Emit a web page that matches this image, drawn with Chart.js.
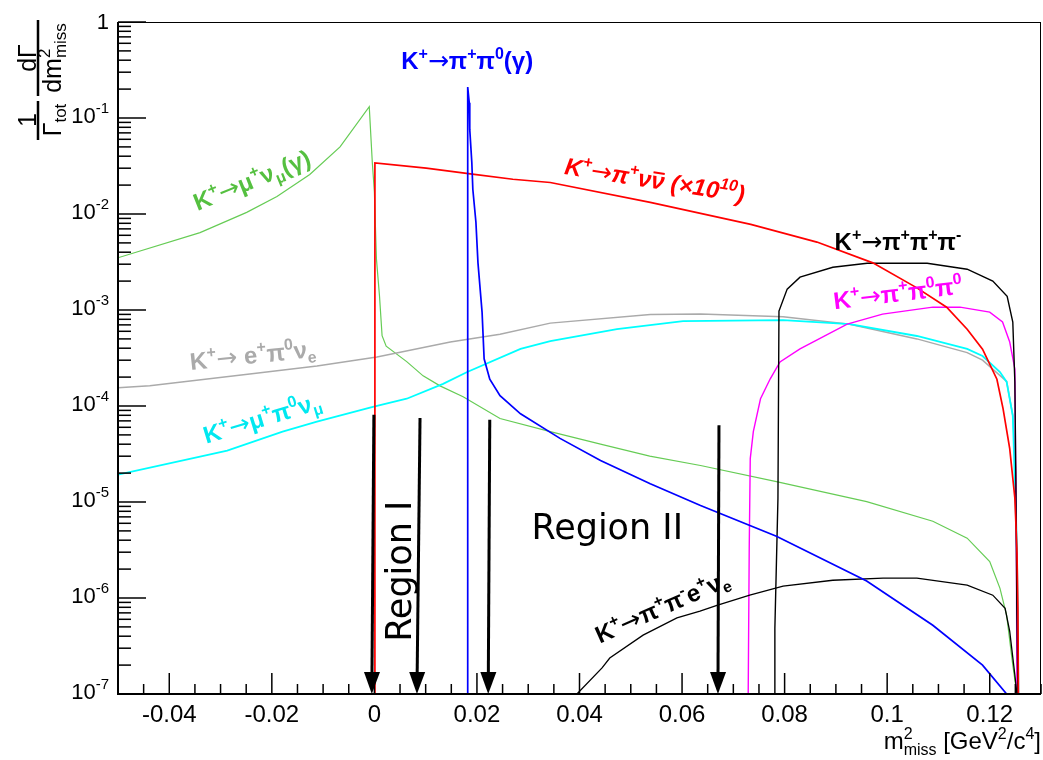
<!DOCTYPE html>
<html>
<head>
<meta charset="utf-8">
<script src="https://cdn.jsdelivr.net/npm/chart.js@4.4.0/dist/chart.umd.min.js"></script>
<style>
  html, body { margin: 0; padding: 0; background: #fff; }
</style>
</head>
<body>
<canvas id="grafico" width="1043" height="760"></canvas>
<script>
// axis ranges and tick labels
const xRange = [-0.05, 0.13];
const yRange = [1e-7, 1];
const xMajorTicks = [-0.04, -0.02, 0, 0.02, 0.04, 0.06, 0.08, 0.1, 0.12];
const xTickLabels = ['-0.04', '-0.02', '0', '0.02', '0.04', '0.06', '0.08', '0.1', '0.12'];
const yDecades = [1, 1e-1, 1e-2, 1e-3, 1e-4, 1e-5, 1e-6, 1e-7];
const yTickLabels = ['1', '10^{-1}', '10^{-2}', '10^{-3}', '10^{-4}', '10^{-5}', '10^{-6}', '10^{-7}'];

// K+ -> mu+ nu (gamma)
const kmunuX = [-0.05, -0.034, -0.0249, -0.019, -0.0126, -0.0067, -0.0010, -0.0004, 0.0000, 0.0002, 0.0004, 0.0010, 0.0015, 0.0023, 0.0063, 0.0095, 0.0128, 0.0173, 0.0245, 0.0343, 0.0441, 0.0537, 0.0636, 0.0784, 0.0960, 0.1089, 0.1156, 0.1200, 0.1220, 0.1233, 0.1245, 0.1253];
const kmunuY = [3.5e-3, 6.4e-3, 1.04e-2, 1.52e-2, 2.58e-2, 5.0e-2, 0.131, 3.4e-2, 1.7e-2, 7.4e-3, 3.4e-3, 1.39e-3, 5.4e-4, 4.2e-4, 2.9e-4, 2.06e-4, 1.62e-4, 1.25e-4, 7.4e-5, 5.4e-5, 4.0e-5, 3.0e-5, 2.4e-5, 1.63e-5, 1.01e-5, 6.3e-6, 4.2e-6, 2.4e-6, 1.26e-6, 6.6e-7, 2.0e-7, 1.0e-7];

// K+ -> pi+ nu nubar (x 10^10)
const kpinunuX = [0.0001, 0.0001, 0.0101, 0.0191, 0.0270, 0.0343, 0.0538, 0.0734, 0.0863, 0.0972, 0.1058, 0.1116, 0.1156, 0.1186, 0.1214, 0.1226, 0.1239, 0.1249, 0.1253, 0.1255, 0.1256];
const kpinunuY = [1e-7, 0.034, 0.030, 0.026, 0.023, 0.0213, 0.0132, 0.0078, 0.0051, 0.0031, 0.0017, 0.00107, 6.3e-4, 3.9e-4, 1.9e-4, 9.4e-5, 3.6e-5, 1.1e-5, 3.3e-6, 8e-7, 1e-7];

// K+ -> pi+ pi0 (gamma)
const kpipi0X = [0.0182, 0.0182, 0.0185, 0.0186, 0.0190, 0.0192, 0.0198, 0.0202, 0.0210, 0.0214, 0.0225, 0.0245, 0.0285, 0.0362, 0.0441, 0.0538, 0.0636, 0.0784, 0.0960, 0.1089, 0.1186, 0.1233];
const kpipi0Y = [1e-7, 0.21, 0.144, 0.0756, 0.0344, 0.018, 0.0082, 0.0031, 9.5e-4, 3.1e-4, 1.9e-4, 1.28e-4, 8.3e-5, 4.6e-5, 2.7e-5, 1.55e-5, 9.2e-6, 4.4e-6, 1.5e-6, 5.2e-7, 2.0e-7, 1.0e-7];

// K+ -> e+ pi0 nu_e
const ke3X = [-0.05, -0.0438, -0.0243, -0.0112, 0.0005, 0.0148, 0.0245, 0.0343, 0.0538, 0.0636, 0.0797, 0.0927, 0.1058, 0.1156, 0.1186, 0.1233, 0.1245, 0.1251, 0.1255];
const ke3Y = [1.55e-4, 1.63e-4, 2.16e-4, 2.61e-4, 3.24e-4, 4.64e-4, 5.6e-4, 7.3e-4, 9.0e-4, 9.1e-4, 8.5e-4, 7.1e-4, 5.0e-4, 3.6e-4, 3.0e-4, 1.8e-4, 8e-5, 2e-5, 1e-7];

// K+ -> mu+ pi0 nu_mu
const kmu3X = [-0.05, -0.034, -0.0287, -0.0179, -0.0112, -0.0003, 0.0063, 0.0134, 0.0181, 0.0285, 0.0343, 0.0473, 0.0602, 0.0797, 0.0927, 0.1058, 0.1156, 0.1186, 0.1220, 0.1233, 0.1245, 0.1249, 0.1253, 0.1255, 0.1256];
const kmu3Y = [1.93e-5, 2.97e-5, 3.43e-5, 5.4e-5, 6.86e-5, 9.8e-5, 1.19e-4, 1.7e-4, 2.26e-4, 3.93e-4, 4.75e-4, 6.33e-4, 7.67e-4, 7.86e-4, 7.14e-4, 5.36e-4, 3.93e-4, 3.32e-4, 2.26e-4, 1.78e-4, 7.9e-5, 1.63e-5, 3.3e-6, 3.2e-7, 1e-7];

// K+ -> pi+ pi0 pi0
const kpi0pi0X = [0.0729, 0.0731, 0.0733, 0.0739, 0.0753, 0.0772, 0.0791, 0.0830, 0.0922, 0.0991, 0.1089, 0.1142, 0.1200, 0.1225, 0.1239, 0.1249, 0.1252, 0.1253];
const kpi0pi0Y = [1e-7, 3.3e-6, 2.83e-5, 5.4e-5, 1.19e-4, 1.92e-4, 2.88e-4, 3.93e-4, 7.14e-4, 9.06e-4, 1.07e-3, 1.07e-3, 9.5e-4, 7.5e-4, 4.64e-4, 2.43e-4, 3e-6, 1e-7];

// K+ -> pi+ pi+ pi-
const k3piX = [0.0781, 0.0781, 0.0787, 0.0789, 0.0805, 0.0830, 0.0894, 0.0961, 0.1078, 0.1156, 0.1206, 0.1234, 0.1245, 0.1249, 0.1251, 0.1253, 0.1255];
const k3piY = [1e-7, 4.85e-7, 1.09e-5, 9.75e-4, 1.65e-3, 2.2e-3, 2.79e-3, 3.07e-3, 3.07e-3, 2.66e-3, 2.0e-3, 1.39e-3, 7.5e-4, 1.78e-4, 1.63e-5, 6.6e-7, 1e-7];

// K+ -> pi+ pi- e+ nu_e
const ke4X = [0.0395, 0.0444, 0.0459, 0.0524, 0.0590, 0.0635, 0.0668, 0.0732, 0.0797, 0.0894, 0.0992, 0.1058, 0.1156, 0.1206, 0.1230, 0.1239, 0.1249, 0.1253];
const ke4Y = [1.0e-7, 1.87e-7, 2.37e-7, 4.1e-7, 6.2e-7, 7.3e-7, 8.4e-7, 1.07e-6, 1.33e-6, 1.53e-6, 1.61e-6, 1.61e-6, 1.36e-6, 1.07e-6, 7.8e-7, 4.5e-7, 1.58e-7, 1.0e-7];

// arrows marking the signal regions (data coordinates)
const arrows = [
  { x0: -0.0001, y0: 8.1e-5, x1: -0.0005, y1: 1e-7 },
  { x0: 0.0089, y0: 7.5e-5, x1: 0.0083, y1: 1e-7 },
  { x0: 0.0225, y0: 7.2e-5, x1: 0.0222, y1: 1e-7 },
  { x0: 0.0672, y0: 6.3e-5, x1: 0.0670, y1: 1e-7 }
];

// curve captions (data coordinates, angle in degrees)
const captions = [
  { text: 'K^{+}→μ^{+}ν_{μ}(γ)', x: -0.0239, y: 0.0226, angle: -22, color: '#55c040' },
  { text: 'K^{+}→π^{+}π^{0}(γ)', x: 0.0181, y: 0.392, angle: 0, color: '#0000ff' },
  { text: 'K^{+}→π^{+}ν#bar{ν} (×10^{10})', x: 0.0547, y: 0.0226, angle: 9, color: '#ff0000', italic: true },
  { text: 'K^{+}→π^{+}π^{+}π^{-}', x: 0.1021, y: 5.2e-3, angle: 0, color: '#000000' },
  { text: 'K^{+}→π^{+}π^{0}π^{0}', x: 0.1021, y: 1.5e-3, angle: -7, color: '#ff00ff' },
  { text: 'K^{+}→ e^{+}π^{0}ν_{e}', x: -0.0237, y: 3.4e-4, angle: -6, color: '#aaaaaa' },
  { text: 'K^{+}→μ^{+}π^{0}ν_{μ}', x: -0.0219, y: 7.5e-5, angle: -17, color: '#00e8f0' },
  { text: 'K^{+}→π^{+}π^{-}e^{+}ν_{e}', x: 0.0561, y: 8.1e-7, angle: -24, color: '#000000' }
];
const regions = [
  { text: 'Region I', x: 0.0048, y: 1.9e-6, angle: -90 },
  { text: 'Region II', x: 0.0454, y: 5.5e-6, angle: 0 }
];

const pontos = (xs, ys) => xs.map((x, i) => ({ x: x, y: ys[i] }));

// small TLatex-like text: ^{} superscript, _{} subscript, #bar{} overline, arrow in its own font
function partesTexto(str) {
  const out = [];
  let i = 0, buf = '';
  const flush = () => { if (buf) { out.push({ t: buf, k: 'n' }); buf = ''; } };
  while (i < str.length) {
    if ((str[i] === '^' || str[i] === '_') && str[i + 1] === '{') {
      flush();
      const fim = str.indexOf('}', i);
      out.push({ t: str.slice(i + 2, fim), k: str[i] === '^' ? 'sup' : 'sub' });
      i = fim + 1;
    } else if (str.startsWith('#bar{', i)) {
      flush();
      const fim = str.indexOf('}', i);
      out.push({ t: str.slice(i + 5, fim), k: 'bar' });
      i = fim + 1;
    } else if (str[i] === '→') {
      flush();
      out.push({ t: '→', k: 'arr' });
      i++;
    } else { buf += str[i]; i++; }
  }
  flush();
  return out;
}

function desenhaTexto(ctx, str, x, y, o) {
  const size = o.size || 24;
  const fam = o.family || '"Liberation Sans", Arial, sans-serif';
  const pre = (o.italic ? 'italic ' : '') + (o.bold ? 'bold ' : '');
  const small = Math.round(size * 0.68);
  const fonte = k => k === 'arr' ? Math.round(size * 1.05) + 'px "DejaVu Sans", sans-serif'
    : pre + ((k === 'sup' || k === 'sub') ? small : size) + 'px ' + fam;
  const partes = partesTexto(str);
  ctx.save();
  let w = 0, prev = null;
  partes.forEach(p => {
    ctx.font = fonte(p.k);
    p.w = ctx.measureText(p.t).width;
    if (p.k === 'sub' && prev && prev.k === 'sup') { p.x = prev.x; w = Math.max(prev.x + prev.w, p.x + p.w); }
    else { p.x = w; w += p.w; }
    prev = p;
  });
  ctx.translate(x, y);
  ctx.rotate((o.angle || 0) * Math.PI / 180);
  const x0 = o.align === 'left' ? 0 : o.align === 'right' ? -w : -w / 2;
  const base = size * 0.35;
  ctx.fillStyle = o.color || '#000';
  ctx.strokeStyle = o.color || '#000';
  ctx.textBaseline = 'alphabetic';
  partes.forEach(p => {
    ctx.font = fonte(p.k);
    let dy = base;
    if (p.k === 'sup') dy -= size * 0.42;
    if (p.k === 'sub') dy += size * 0.22;
    ctx.fillText(p.t, x0 + p.x, dy);
    if (p.k === 'bar') {
      ctx.lineWidth = Math.max(1.5, size / 12);
      ctx.beginPath();
      ctx.moveTo(x0 + p.x + 1, dy - size * 0.66);
      ctx.lineTo(x0 + p.x + p.w - 1, dy - size * 0.66);
      ctx.stroke();
    }
  });
  ctx.restore();
}

const molduraRoot = {
  id: 'molduraRoot',
  beforeDraw(chart) {
    const ctx = chart.ctx;
    ctx.save();
    ctx.fillStyle = '#fff';
    ctx.fillRect(0, 0, chart.width, chart.height);
    ctx.restore();
  },
  afterDatasetsDraw(chart) {
    const { ctx, chartArea: a, scales: { x, y } } = chart;
    ctx.save();
    ctx.strokeStyle = '#000';
    ctx.lineWidth = 1.5;
    x.ticks.forEach(t => {
      const px = x.getPixelForValue(t.value);
      const major = xMajorTicks.some(m => Math.abs(m - t.value) < 1e-9);
      ctx.beginPath(); ctx.moveTo(px, a.bottom); ctx.lineTo(px, a.bottom - (major ? 21 : 10)); ctx.stroke();
    });
    y.ticks.forEach(t => {
      const py = y.getPixelForValue(t.value);
      const l = Math.log10(t.value);
      const major = Math.abs(l - Math.round(l)) < 1e-9;
      ctx.beginPath(); ctx.moveTo(a.left, py); ctx.lineTo(a.left + (major ? 28 : 13), py); ctx.stroke();
    });
    ctx.lineWidth = 1;
    ctx.strokeRect(a.left + 0.5, a.top + 0.5, a.right - a.left - 1, a.bottom - a.top - 1);
    ctx.lineWidth = 2;
    ctx.beginPath();
    ctx.moveTo(a.left, a.top); ctx.lineTo(a.left, a.bottom); ctx.lineTo(a.right, a.bottom);
    ctx.stroke();

    // arrows
    ctx.fillStyle = '#000';
    arrows.forEach(ar => {
      const x0 = x.getPixelForValue(ar.x0), y0 = y.getPixelForValue(ar.y0);
      const x1 = x.getPixelForValue(ar.x1), y1 = y.getPixelForValue(ar.y1);
      const ang = Math.atan2(y1 - y0, x1 - x0);
      const hl = 22, hw = 8;
      const bx = x1 - hl * Math.cos(ang), by = y1 - hl * Math.sin(ang);
      ctx.lineWidth = 3;
      ctx.beginPath(); ctx.moveTo(x0, y0); ctx.lineTo(bx, by); ctx.stroke();
      ctx.beginPath();
      ctx.moveTo(x1, y1);
      ctx.lineTo(bx + hw * Math.sin(ang), by - hw * Math.cos(ang));
      ctx.lineTo(bx - hw * Math.sin(ang), by + hw * Math.cos(ang));
      ctx.closePath(); ctx.fill();
    });
    ctx.restore();
  },
  afterDraw(chart) {
    const { ctx, chartArea: a, scales: { x, y } } = chart;
    // tick labels
    xMajorTicks.forEach((v, i) => desenhaTexto(ctx, xTickLabels[i], x.getPixelForValue(v), a.bottom + 20, { size: 24 }));
    yDecades.forEach((v, i) => desenhaTexto(ctx, yTickLabels[i], a.left - 9, y.getPixelForValue(v) - (i === 0 ? 1 : 3), { size: 22, align: 'right' }));

    // axis titles
    desenhaTexto(ctx, 'm^{2}_{miss} [GeV^{2}/c^{4}]', 1041, 741, { size: 24, align: 'right' });
    const yt = { size: 25, angle: -90 };
    desenhaTexto(ctx, '1', 27, 120, yt);
    desenhaTexto(ctx, 'Γ_{tot}', 52, 120, yt);
    desenhaTexto(ctx, 'dΓ', 27, 58, yt);
    desenhaTexto(ctx, 'dm^{2}_{miss}', 52, 58, yt);
    ctx.save();
    ctx.strokeStyle = '#000';
    ctx.lineWidth = 2.5;
    ctx.beginPath();
    ctx.moveTo(38, 101); ctx.lineTo(38, 140);
    ctx.moveTo(38, 20); ctx.lineTo(38, 96);
    ctx.stroke();
    ctx.restore();

    // captions
    captions.forEach(c => desenhaTexto(ctx, c.text, x.getPixelForValue(c.x), y.getPixelForValue(c.y),
      { size: 24, bold: true, italic: c.italic, angle: c.angle, color: c.color }));
    regions.forEach(r => desenhaTexto(ctx, r.text, x.getPixelForValue(r.x), y.getPixelForValue(r.y),
      { size: 35, family: '"DejaVu Sans", sans-serif', angle: r.angle, color: '#000' }));
  }
};

function serie(xs, ys, cor, largura) {
  return { data: pontos(xs, ys), borderColor: cor, borderWidth: largura, pointRadius: 0, tension: 0, fill: false };
}

new Chart(document.getElementById('grafico'), {
  type: 'line',
  data: {
    datasets: [
      serie(kpipi0X, kpipi0Y, '#0000ff', 1.7),
      serie(kpinunuX, kpinunuY, '#ff0000', 1.7),
      serie(ke4X, ke4Y, '#000000', 1.3),
      serie(k3piX, k3piY, '#000000', 1.4),
      serie(kpi0pi0X, kpi0pi0Y, '#ff00ff', 1.4),
      serie(kmu3X, kmu3Y, '#00ffff', 1.8),
      serie(ke3X, ke3Y, '#aaaaaa', 1.5),
      serie(kmunuX, kmunuY, '#66cc55', 1.2)
    ]
  },
  options: {
    responsive: false,
    animation: false,
    events: [],
    layout: { padding: { left: 118, right: 2, top: 22, bottom: 66 } },
    plugins: { legend: { display: false }, tooltip: { enabled: false } },
    scales: {
      x: {
        type: 'linear', min: xRange[0], max: xRange[1],
        ticks: { display: false }, grid: { display: false }, border: { display: false },
        afterBuildTicks: s => {
          const t = [];
          for (let i = -10; i <= 26; i++) t.push({ value: Math.round(i * 5) / 1000 });
          s.ticks = t;
        },
        afterFit: s => { s.height = 0; }
      },
      y: {
        type: 'logarithmic', min: yRange[0], max: yRange[1],
        ticks: { display: false }, grid: { display: false }, border: { display: false },
        afterBuildTicks: s => {
          const t = [];
          for (let e = -7; e < 0; e++) for (let m = 1; m <= 9; m++) t.push({ value: m * Math.pow(10, e) });
          t.push({ value: 1 });
          s.ticks = t;
        },
        afterFit: s => { s.width = 0; }
      }
    }
  },
  plugins: [molduraRoot]
});
</script>
</body>
</html>
